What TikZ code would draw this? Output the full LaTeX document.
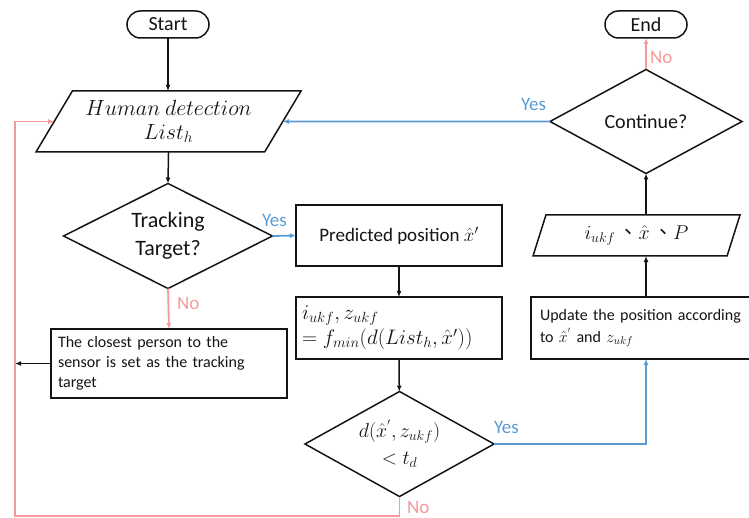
\RequirePackage{fix-cm}
\documentclass[tikz,border=0pt]{standalone}
\usepackage{amsmath}
\usepackage{fontspec}
\setmainfont{Carlito}
\newfontfamily\cjkfont{Noto Sans CJK TC}
\usetikzlibrary{shapes.geometric,arrows.meta}
\definecolor{pinkline}{RGB}{244,154,154}
\definecolor{blueline}{RGB}{91,155,213}
\definecolor{inkc}{RGB}{20,20,20}

\begin{document}
\begin{tikzpicture}[x=1pt,y=-1pt,
  every node/.style={inner sep=0pt, outer sep=0pt, text=inkc},
  base/.style={draw=inkc, line width=1.5pt},
  term/.style={base, rounded corners=13.5pt, minimum width=82pt, minimum height=27pt,
    font=\fontsize{20}{24}\selectfont},
  box/.style={base, rectangle},
  para/.style={base, trapezium, trapezium stretches body,
    font=\fontsize{21}{26}\selectfont},
  dec/.style={base, diamond, aspect=2, align=center,
    font=\fontsize{21}{27}\selectfont},
  blk/.style={draw=inkc, line width=1.5pt, -{Latex[length=6pt,width=5pt]}},
  pk/.style={draw=pinkline, line width=1.8pt, -{Latex[length=6pt,width=5pt]}},
  bl/.style={draw=blueline, line width=1.8pt, -{Latex[length=6pt,width=5pt]}},
  pklab/.style={text=pinkline, font=\fontsize{19}{22}\selectfont},
  bllab/.style={text=blueline, font=\fontsize{19}{22}\selectfont},
]
\useasboundingbox (0,0) rectangle (749,518);
\clip (0,0) rectangle (749,518);

% terminators
\node[term] (start) at (168,24.5) {Start};
\node[term] (end) at (646,24.5) {End};

% input: list of detected people
\node[para, trapezium left angle=49.5, trapezium right angle=130.5,
  minimum width=265pt, minimum height=61pt, align=center,
  font=\fontsize{22}{26}\selectfont] (hd) at (168.5,121.5)
  {$Human\ detection$\\[-2pt]$List_h$};

% decision: is a target tracked?
\node[dec, minimum width=209pt, minimum height=105pt,
  font=\fontsize{22}{28}\selectfont] (track) at (168,236)
  {Tracking\\Target?};

% prediction step
\node[box, minimum width=206pt, minimum height=61pt,
  font=\fontsize{19}{22}\selectfont] (pred) at (399,235.5)
  {Predicted position $\hat{x}'$};

% nearest measurement
\node[box, minimum width=206pt, minimum height=62pt, text width=194pt, align=left,
  font=\fontsize{21}{24}\selectfont] (fmin) at (399,328)
  {$i_{ukf}, z_{ukf}$\\[1pt]$= f_{min}(d(List_h,\hat{x}'))$};

% target initialisation
\node[box, minimum width=236pt, minimum height=69pt, text width=222pt, align=left,
  font=\fontsize{16}{20}\selectfont] (closest) at (169,363.5)
  {The closest person to the\\sensor is set as the tracking\\target};

% gating decision
\node[dec, minimum width=189pt, minimum height=105pt,
  font=\fontsize{20}{26}\selectfont] (dist) at (399.5,444)
  {$d(\hat{x}^{'},z_{ukf})$\\[1pt]$<t_d$};

% filter update
\node[box, minimum width=230pt, minimum height=62pt, text width=212pt, align=left,
  font=\fontsize{16}{21}\selectfont] (upd) at (646,328)
  {Update the position according\\[1pt]to $\hat{x}^{'}$ and $z_{ukf}$};

% output of the filter
\node[para, trapezium left angle=56.6, trapezium right angle=123.4,
  minimum width=207pt, minimum height=41pt,
  font=\fontsize{20}{24}\selectfont] (out) at (636.5,235.5)
  {$i_{ukf}$\,{\cjkfont 、}$\hat{x}$\,{\cjkfont 、}$P$};

% decision: keep running?
\node[dec, minimum width=192pt, minimum height=104pt,
  font=\fontsize{20}{24}\selectfont] (cont) at (646,121.5)
  {Continue?};

% connectors
\coordinate (lb) at (15,516);
\draw[blk] (start) -- (start |- hd.north);
\draw[blk] (hd.south) -- (track.north);
\draw[bl] (track.east) -- (pred.west);
\node[bllab, anchor=south west] (ytrack) at (262,227) {Yes};
\draw[pk] (track.south) -- (closest.north);
\node[pklab, anchor=west] (ntrack) at (177,303) {No};
\draw[blk] (pred) -- (fmin);
\draw[blk] (fmin) -- (dist);
\draw[blk] (closest.west) -- (closest.west -| lb);
\draw[pk] (dist.south) |- (lb) |- (hd.west);
\node[pklab, anchor=west] (ndist) at (407,507) {No};
\draw[bl] (dist.east) -| (upd.south);
\node[bllab, anchor=west] (ydist) at (494,427) {Yes};
\draw[blk] (upd.north) -- (upd.north |- out.south);
\draw[blk] (upd.north |- out.north) -- (cont.south);
\draw[pk] (cont.north) -- (end.south);
\node[pklab, anchor=west] (ncont) at (650,57) {No};
\draw[bl] (cont.west) -- (hd.east);
\node[bllab, anchor=east] (ycont) at (546,104) {Yes};
\end{tikzpicture}
\end{document}
